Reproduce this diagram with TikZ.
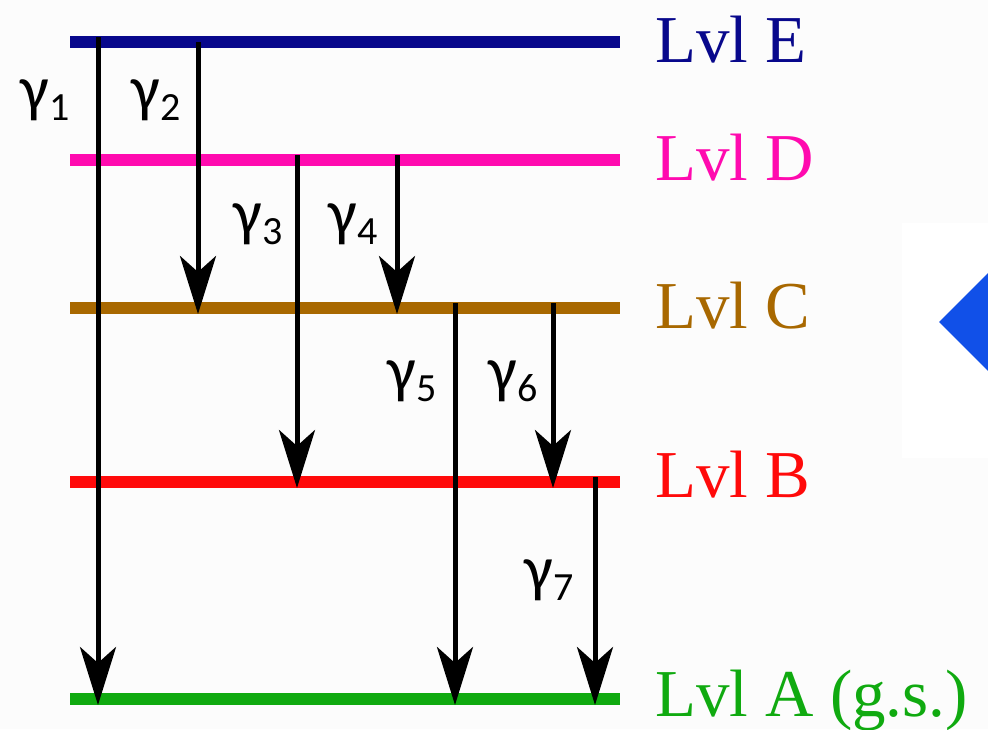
\documentclass[tikz,border=0pt]{standalone}
\usepackage{fontspec}
\setmainfont{Liberation Serif}
\newfontfamily\gamfont{Carlito}
\usetikzlibrary{arrows.meta}
\definecolor{cE}{RGB}{8,8,140}
\definecolor{cD}{RGB}{255,10,175}
\definecolor{cC}{RGB}{168,104,0}
\definecolor{cB}{RGB}{255,10,10}
\definecolor{cA}{RGB}{16,170,16}
\definecolor{cDia}{RGB}{17,80,232}
\definecolor{bgg}{RGB}{252,252,252}
\newcommand{\mygam}[1]{{\gamfont\fontsize{64}{64}\selectfont\setbox0=\hbox{γ}\copy0\kern1pt\lower\dp0\hbox{\fontsize{40}{40}\selectfont #1}}}
\tikzset{
  level/.style={line width=12pt},
  trans/.style={line width=5pt, black, -{Stealth[length=58pt,width=36pt,inset=16pt]}, shorten >=-6pt},
  lvllabel/.style={anchor=base west, inner sep=0pt, font=\fontsize{67}{67}\selectfont},
  gamlabel/.style={inner sep=0pt}
}
\begin{document}
\begin{tikzpicture}[x=1pt,y=-1pt]
\useasboundingbox (0,0) rectangle (988,729);
\fill[bgg] (0,0) rectangle (988,729);
\fill[white] (902,223) rectangle (988,458);
% diamond (partly visible)
\fill[cDia] (939,322) -- (989,272) -- (1039,322) -- (989,372) -- cycle;
% level end points
\coordinate (E0) at (70,42);  \coordinate (E1) at (620,42);
\coordinate (D0) at (70,160); \coordinate (D1) at (620,160);
\coordinate (C0) at (70,308); \coordinate (C1) at (620,308);
\coordinate (B0) at (70,482); \coordinate (B1) at (620,482);
\coordinate (A0) at (70,699); \coordinate (A1) at (620,699);
\draw[level,cE] (E0) -- (E1);
\draw[level,cD] (D0) -- (D1);
\draw[level,cC] (C0) -- (C1);
\draw[level,cB] (B0) -- (B1);
\draw[level,cA] (A0) -- (A1);
\node[lvllabel,text=cE] (lE) at (655,62) {Lvl E};
\node[lvllabel,text=cD] (lD) at (655,180) {Lvl D};
\node[lvllabel,text=cC] (lC) at (655,328) {Lvl C};
\node[lvllabel,text=cB] (lB) at (655,497) {Lvl B};
\node[lvllabel,text=cA] (lA) at (655,716) {Lvl A (g.s.)};
% transition coordinates
\coordinate (g1s) at (98,37);   \coordinate (g1e) at (98,699);
\coordinate (g2s) at (198,42);  \coordinate (g2e) at (198,308);
\coordinate (g3s) at (297,155); \coordinate (g3e) at (297,482);
\coordinate (g4s) at (397,155); \coordinate (g4e) at (397,308);
\coordinate (g5s) at (455,303); \coordinate (g5e) at (455,699);
\coordinate (g6s) at (553,303); \coordinate (g6e) at (553,482);
\coordinate (g7s) at (595,477); \coordinate (g7e) at (595,699);
\draw[trans] (g1s) -- (g1e);
\draw[trans] (g2s) -- (g2e);
\draw[trans] (g3s) -- (g3e);
\draw[trans] (g4s) -- (g4e);
\draw[trans] (g5s) -- (g5e);
\draw[trans] (g6s) -- (g6e);
\draw[trans] (g7s) -- (g7e);
\node[gamlabel] (t1) at (45,100) {\mygam{1}};
\node[gamlabel] (t2) at (156,100) {\mygam{2}};
\node[gamlabel] (t3) at (258,224) {\mygam{3}};
\node[gamlabel] (t4) at (353,224) {\mygam{4}};
\node[gamlabel] (t5) at (412,381) {\mygam{5}};
\node[gamlabel] (t6) at (513,381) {\mygam{6}};
\node[gamlabel] (t7) at (549,580) {\mygam{7}};
\end{tikzpicture}
\end{document}
